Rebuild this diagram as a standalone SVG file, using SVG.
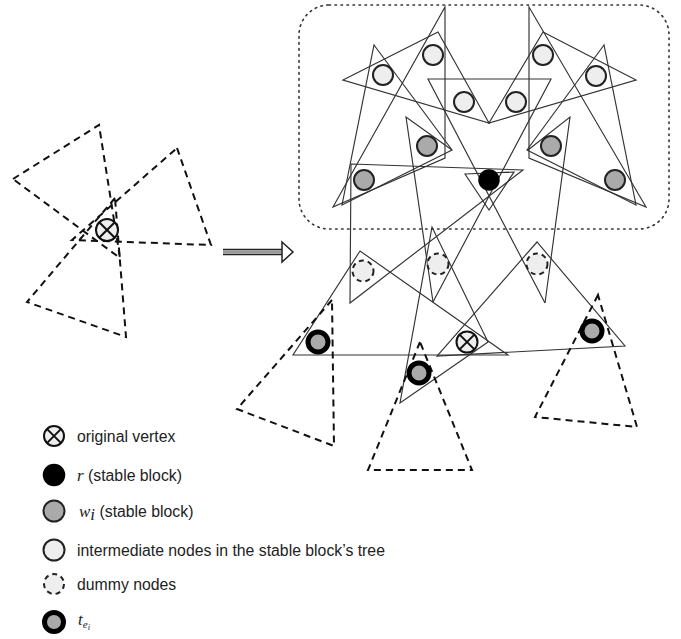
<svg xmlns="http://www.w3.org/2000/svg" width="681" height="639" viewBox="0 0 681 639">
<defs>
<style>
.tri{fill:none;stroke:#333;stroke-width:1.15;stroke-linejoin:miter}
.dash{fill:none;stroke:#111;stroke-width:2;stroke-dasharray:7 5}
.int{fill:#eeeeee;stroke:#222;stroke-width:2}
.w{fill:#aaaaaa;stroke:#222;stroke-width:2}
.r{fill:#000;stroke:#000;stroke-width:1.5}
.dummy{fill:#eeeeee;stroke:#222;stroke-width:2;stroke-dasharray:5 4}
.ring{fill:#aaaaaa;stroke:#000;stroke-width:5}
.ov{fill:#eeeeee;stroke:#111;stroke-width:2}
.x{stroke:#111;stroke-width:2}
.lbl{font-family:"Liberation Sans",Arial,sans-serif;font-size:15.8px;fill:#222}
.math{font-family:"Liberation Serif","Times New Roman",serif;font-style:italic;font-size:17px;fill:#222}
</style>
</defs>
<rect width="681" height="639" fill="#fff"/>
<rect x="299" y="5" width="370" height="224" rx="30" fill="none" stroke="#333" stroke-width="1.6" stroke-dasharray="1.5 4.5" stroke-linecap="round"/>
<g id="connectors">
<polygon class="tri" points="343,80 438,32 489,123"/>
<polygon class="tri" points="636,80 543,32 489,123"/>
<polyline class="tri" points="545,303 428,79 551,79 433,302"/>
<polygon class="tri" points="445,7 445,158 333,207"/>
<polygon class="tri" points="529,7 529,158 646,207"/>
<polygon class="tri" points="374,45 452,150 342,205"/>
<polygon class="tri" points="604,45 527,150 636,205"/>
<polyline class="tri" points="452,150 406,117 433,302"/>
<polyline class="tri" points="528,150 570,117 545,303"/>
<polygon class="tri" points="465,174 514,172 489,210"/>
<polygon class="tri" points="351,164 523,170 350,303"/>
<polygon class="tri" points="360,251 293,355 508,355"/>
<polygon class="tri" points="432,227 400,403 488,342"/>
<polygon class="tri" points="537,242 437,356 625,346"/>
<polygon class="dash" points="332,300 237,409 334,446"/>
<polygon class="dash" points="420,342 368,470 472,470"/>
<polygon class="dash" points="598,295 535,417 637,427"/>
<polygon class="dash" points="13,179 99,125 120,258"/>
<polygon class="dash" points="177,148 211,245 72,240"/>
<polygon class="dash" points="115,198 27,302 126,337"/>
</g>
<g id="arrow">
<path d="M223,249.5 H282 M223,254.5 H282" stroke="#222" stroke-width="1.3" fill="none"/>
<path d="M223,252 H282" stroke="#999" stroke-width="3.5" fill="none"/>
<path d="M282,242 L293,252 L282,262 Z" fill="#fff" stroke="#222" stroke-width="1.5"/>
</g>
<g id="orig-left"><circle class="ov" cx="107" cy="230" r="11"/><path class="x" d="M99.2,222.2 L114.8,237.8 M114.8,222.2 L99.2,237.8"/></g>
<g id="int1"><circle class="int" cx="383" cy="75" r="10"/></g>
<g id="int2"><circle class="int" cx="433" cy="55" r="10"/></g>
<g id="int3"><circle class="int" cx="464" cy="102" r="10"/></g>
<g id="int4"><circle class="int" cx="516" cy="102" r="10"/></g>
<g id="int5"><circle class="int" cx="543" cy="55" r="10"/></g>
<g id="int6"><circle class="int" cx="596" cy="76" r="10"/></g>
<g id="w1"><circle class="w" cx="364" cy="180" r="10"/></g>
<g id="w2"><circle class="w" cx="427" cy="146" r="10"/></g>
<g id="w3"><circle class="w" cx="551" cy="146" r="10"/></g>
<g id="w4"><circle class="w" cx="615" cy="180" r="10"/></g>
<g id="root"><circle class="r" cx="489" cy="180" r="10"/></g>
<g id="dummy1"><circle class="dummy" cx="363" cy="271" r="10.5"/></g>
<g id="dummy2"><circle class="dummy" cx="438" cy="264" r="10.5"/></g>
<g id="dummy3"><circle class="dummy" cx="537" cy="264" r="10.5"/></g>
<g id="orig"><circle class="ov" cx="467" cy="342" r="10.5"/><path class="x" d="M459.6,334.6 L474.4,349.4 M474.4,334.6 L459.6,349.4"/></g>
<g id="te1"><circle class="ring" cx="318" cy="342" r="10"/></g>
<g id="te2"><circle class="ring" cx="419" cy="373" r="10"/></g>
<g id="te3"><circle class="ring" cx="592" cy="331" r="10"/></g>
<g id="legend">
<g id="leg-orig"><circle class="ov" cx="54" cy="436" r="10"/><path class="x" d="M46.9,428.9 L61.1,443.1 M61.1,428.9 L46.9,443.1"/><text class="lbl" x="77" y="441.5">original vertex</text></g>
<g id="leg-r"><circle class="r" cx="54" cy="475" r="10.5"/><text class="lbl" x="77" y="480.5"><tspan class="math">r</tspan> (stable block)</text></g>
<g id="leg-w"><circle class="w" cx="54" cy="511" r="10.5"/><text class="lbl" x="79" y="516.5"><tspan class="math">w</tspan><tspan class="math" font-size="12" dy="3">i</tspan><tspan dy="-3"> (stable block)</tspan></text></g>
<g id="leg-int"><circle class="int" cx="54" cy="550" r="10.5"/><text class="lbl" x="77" y="555.5">intermediate nodes in the stable block’s tree</text></g>
<g id="leg-dummy"><circle class="dummy" cx="54" cy="584" r="10"/><text class="lbl" x="77" y="589.5">dummy nodes</text></g>
<g id="leg-te"><circle class="ring" cx="54" cy="622" r="9.5"/><text class="math" x="78" y="625">t<tspan font-size="11" dy="3">e</tspan><tspan font-size="8.5" dy="2">i</tspan></text></g>
</g>
</svg>
